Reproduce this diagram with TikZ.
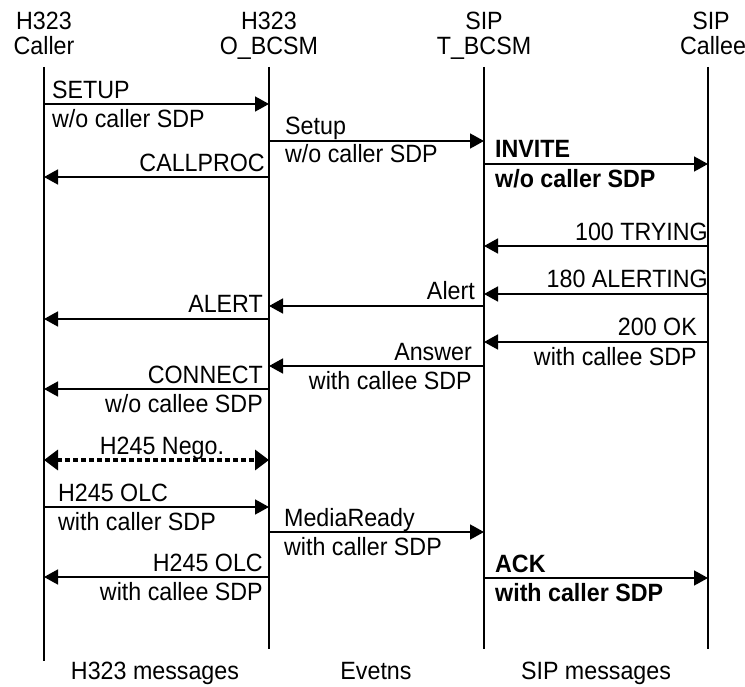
\documentclass[tikz,border=0pt]{standalone}
\usepackage{fontspec}
\setmainfont[FakeStretch=0.93]{Liberation Sans}
\usetikzlibrary{arrows.meta}
\begin{document}
\begin{tikzpicture}[x=1pt,y=-1pt,
  every node/.style={inner sep=0pt,font=\fontsize{25}{30}\selectfont},
  lw/.style={anchor=base west},
  le/.style={anchor=base east},
  lc/.style={anchor=base},
  bl/.style={font=\fontsize{25}{30}\selectfont\bfseries},
  life/.style={line width=1.5pt},
  msg/.style={line width=1.6pt,-{Triangle[length=14pt,width=15pt]}},
  nego/.style={line width=4.5pt,dash pattern=on 4.5pt off 3.5pt,
    {Triangle[length=14pt,width=20pt]}-{Triangle[length=14pt,width=20pt]}}
]
\useasboundingbox (0,0) rectangle (745,687);
% lifelines
\coordinate (A) at (44,67);  \coordinate (Ab) at (44,661);
\coordinate (B) at (269,67); \coordinate (Bb) at (269,649);
\coordinate (C) at (484,67); \coordinate (Cb) at (484,649);
\coordinate (D) at (708,67); \coordinate (Db) at (708,649);
\draw[life] (A) -- (Ab);
\draw[life] (B) -- (Bb);
\draw[life] (C) -- (Cb);
\draw[life] (D) -- (Db);
% titles
\node[lc] (tA1) at (44,30) {H323};
\node[lc] (tA2) at (44,55) {Caller};
\node[lc] (tB1) at (269,30) {H323};
\node[lc] (tB2) at (269,55) {O\_BCSM};
\node[lc] (tC1) at (484,30) {SIP};
\node[lc] (tC2) at (484,55) {T\_BCSM};
\node[lc] (tD1) at (711,30) {SIP};
\node[lc] (tD2) at (713,55) {Callee};
% SETUP
\draw[msg] (A |- 0,104) -- (B |- 0,104);
\node[lw] (m1a) at (52,99) {SETUP};
\node[lw] (m1b) at (52,128) {w/o caller SDP};
% Setup
\draw[msg] (B |- 0,141) -- (C |- 0,141);
\node[lw] (m2a) at (285,135) {Setup};
\node[lw] (m2b) at (285,163) {w/o caller SDP};
% CALLPROC
\draw[msg] (B |- 0,177) -- (A |- 0,177);
\node[le] (m3a) at (265,172) {CALLPROC};
% INVITE
\draw[msg] (C |- 0,164) -- (D |- 0,164);
\node[lw,bl] (m4a) at (495,158) {INVITE};
\node[lw,bl] (m4b) at (495,188) {w/o caller SDP};
% 100 TRYING
\draw[msg] (D |- 0,246) -- (C |- 0,246);
\node[le] (m5a) at (708,241) {100 TRYING};
% 180 ALERTING
\draw[msg] (D |- 0,294) -- (C |- 0,294);
\node[le] (m6a) at (708,288) {180 ALERTING};
% Alert
\draw[msg] (C |- 0,306) -- (B |- 0,306);
\node[le] (m7a) at (475,300) {Alert};
% ALERT
\draw[msg] (B |- 0,319) -- (A |- 0,319);
\node[le] (m8a) at (263,313) {ALERT};
% 200 OK
\draw[msg] (D |- 0,342) -- (C |- 0,342);
\node[le] (m9a) at (697,336) {200 OK};
\node[le] (m9b) at (697,365) {with callee SDP};
% Answer
\draw[msg] (C |- 0,366) -- (B |- 0,366);
\node[le] (m10a) at (472,360) {Answer};
\node[le] (m10b) at (472,389) {with callee SDP};
% CONNECT
\draw[msg] (B |- 0,389) -- (A |- 0,389);
\node[le] (m11a) at (263,383) {CONNECT};
\node[le] (m11b) at (263,412) {w/o callee SDP};
% H245 Nego.
\draw[nego] (A |- 0,460) -- (B |- 0,460);
\node[lc] (m12a) at (162,454) {H245 Nego.};
% H245 OLC
\draw[msg] (A |- 0,507) -- (B |- 0,507);
\node[lw] (m13a) at (58,501) {H245 OLC};
\node[lw] (m13b) at (58,530) {with caller SDP};
% MediaReady
\draw[msg] (B |- 0,532) -- (C |- 0,532);
\node[lw] (m14a) at (284,526) {MediaReady};
\node[lw] (m14b) at (284,555) {with caller SDP};
% H245 OLC back
\draw[msg] (B |- 0,577) -- (A |- 0,577);
\node[le] (m15a) at (263,571) {H245 OLC};
\node[le] (m15b) at (263,600) {with callee SDP};
% ACK
\draw[msg] (C |- 0,578) -- (D |- 0,578);
\node[lw,bl] (m16a) at (495,572) {ACK};
\node[lw,bl] (m16b) at (495,601) {with caller SDP};
% bottom
\node[lc] (b1) at (155,679) {H323 messages};
\node[lc] (b2) at (376,679) {Evetns};
\node[lc] (b3) at (596,679) {SIP messages};
\end{tikzpicture}
\end{document}
